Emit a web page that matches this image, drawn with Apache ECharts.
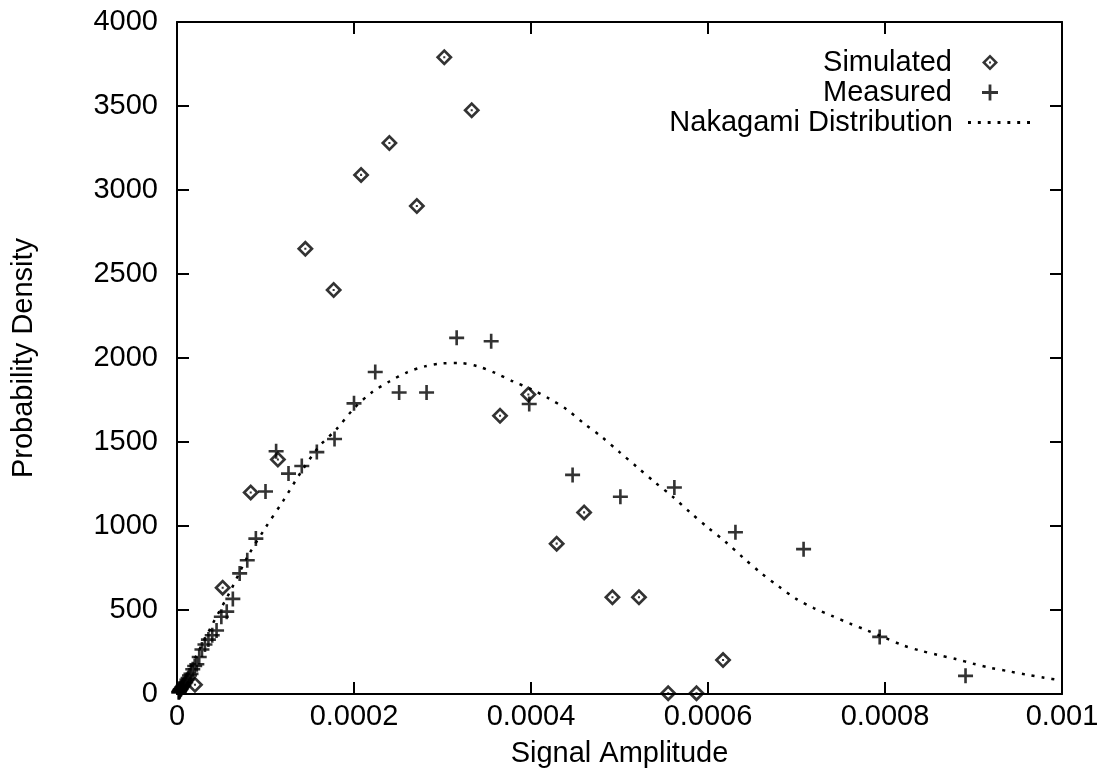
<!DOCTYPE html>
<html>
<head>
<meta charset="utf-8">
<script src="https://cdn.jsdelivr.net/npm/echarts@6/dist/echarts.min.js"></script>
<style>html,body{margin:0;padding:0;background:#fff}#c{width:1105px;height:773px}</style>
</head>
<body>
<div id="c"></div>
<script>
// ---- data ----
const simX = [0.0000203,0.0000516,0.0000833,0.000114,0.000145,0.000177,0.000208,0.000240,0.000271,0.000302,0.000333,0.000365,0.000397,0.000429,0.000460,0.000492,0.000522,0.000555,0.000587,0.000617];
const simY = [55,633,1200,1396,2650,2405,3090,3280,2905,3790,3475,1656,1783,895,1081,576,576,5,5,202];

const measX = [0.000891,0.000794,0.000708,0.000631,0.000562,0.000501,0.000447,0.000398,0.000355,0.000316,0.000282,0.000251,0.000224,0.000200,0.000178,0.000158,0.000141,0.000126,0.000112,0.000100,
  0.0000891,0.0000794,0.0000708,0.0000631,0.0000562,0.0000501,0.0000447,0.0000398,0.0000355,0.0000316,0.0000282,0.0000251,0.0000224,0.0000200,0.0000178,0.0000158,0.0000141,0.0000126,0.0000112,0.0000100,
  0.0000089,0.0000079,0.0000071,0.0000063,0.0000056,0.0000050,0.0000045,0.0000040,0.0000035,0.0000032,0.0000028,0.0000025,0.0000022,0.0000020];
const measY = [108,340,862,963,1229,1174,1304,1726,2100,2120,1795,1795,1917,1730,1518,1440,1357,1312,1445,1205,
  925,796,718,566,490,460,378,350,324,295,265,220,177,167,147,120,110,95,85,70,
  65,55,50,45,40,35,30,28,25,20,18,15,12,10];

const curveX = [0,0.00002,0.00004,0.00006,0.00008,0.0001,0.00012,0.00014,0.00016,0.00018,0.0002,0.00022,0.00024,0.00026,0.00028,0.0003,0.00032,0.00034,0.00036,0.00038,0.0004,0.00042,0.00044,0.00046,0.00048,0.0005,0.00052,0.00054,0.00056,0.00058,0.0006,0.00062,0.00064,0.00066,0.00068,0.0007,0.00072,0.00074,0.00076,0.00078,0.0008,0.00082,0.00084,0.00086,0.00088,0.0009,0.00092,0.00094,0.00096,0.00098,0.001];
const curveY = [0,210,415,610,820,990,1150,1320,1470,1575,1700,1795,1860,1915,1950,1968,1970,1950,1910,1860,1815,1760,1695,1610,1530,1440,1350,1260,1175,1080,990,905,810,720,640,565,510,465,420,378,335,290,258,232,208,180,155,135,115,97,80];

const xTickLabels = ['0','0.0002','0.0004','0.0006','0.0008','0.001'];
const yTickLabels = ['0','500','1000','1500','2000','2500','3000','3500','4000'];
const seriesNames = ['Simulated','Measured','Nakagami Distribution'];
const xName = 'Signal Amplitude';
const yName = 'Probability Density';

// ---- chart ----
const FONT = "'Liberation Sans', Arial, Helvetica, sans-serif";
const FS = 29;
const diamondPath = 'path://M0,-10 L10,0 L0,10 L-10,0 Z M0,-5.5 L-5.5,0 L0,5.5 L5.5,0 Z M-1.2,-1.2 L1.2,-1.2 L1.2,1.2 L-1.2,1.2 Z';
const plusPath = 'path://M-1.4,-8 L1.4,-8 L1.4,-1.4 L8,-1.4 L8,1.4 L1.4,1.4 L1.4,8 L-1.4,8 L-1.4,1.4 L-8,1.4 L-8,-1.4 L-1.4,-1.4 Z';
const dotsPath = 'path://M0,0h3v3h-3Z M10,0h3v3h-3Z M20,0h3v3h-3Z M30,0h3v3h-3Z M40,0h3v3h-3Z M50,0h3v3h-3Z M60,0h3v3h-3Z';

const chart = echarts.init(document.getElementById('c'), null, {renderer: 'canvas'});
const axisLine = {show: true, onZero: false, lineStyle: {color: '#000', width: 2}};
const tickIn = {show: true, inside: true, length: 12, lineStyle: {color: '#000', width: 2}};
const xCommon = {type: 'value', min: 0, max: 0.001, interval: 0.0002, splitLine: {show: false}, axisLine: axisLine, axisTick: tickIn};
const yCommon = {type: 'value', min: 0, max: 4000, interval: 500, splitLine: {show: false}, axisLine: axisLine, axisTick: tickIn};

const legText = pad => ({fontFamily: FONT, fontSize: FS, color: '#000', padding: [0, pad, 0, 0]});

chart.setOption({
  animation: false,
  backgroundColor: '#fff',
  grid: {left: 177, right: 43, top: 22, bottom: 74},
  legend: [
    {orient: 'vertical', align: 'right', padding: 0, itemWidth: 16, itemHeight: 16, right: 107, top: 48,
      data: [seriesNames[0]], textStyle: legText(25)},
    {orient: 'vertical', align: 'right', padding: 0, itemWidth: 16, itemHeight: 16, right: 107, top: 78,
      data: [seriesNames[1]], textStyle: legText(25)},
    {orient: 'vertical', align: 'right', padding: 0, itemWidth: 62, itemHeight: 3, right: 75, top: 108,
      data: [{name: seriesNames[2], icon: dotsPath}], textStyle: legText(10)}
  ],
  xAxis: [
    Object.assign({}, xCommon, {position: 'bottom', name: xName, nameLocation: 'middle', nameGap: 45,
      nameTextStyle: {fontFamily: FONT, fontSize: FS, color: '#000'},
      axisLabel: {margin: 8, fontFamily: FONT, fontSize: FS, color: '#000',
        formatter: v => xTickLabels[Math.round(v / 0.0002)]}}),
    Object.assign({}, xCommon, {position: 'top', axisLabel: {show: false}})
  ],
  yAxis: [
    Object.assign({}, yCommon, {position: 'left', name: yName, nameLocation: 'middle', nameGap: 139,
      nameTextStyle: {fontFamily: FONT, fontSize: FS, color: '#000'},
      axisLabel: {margin: 19, fontFamily: FONT, fontSize: FS, color: '#000',
        formatter: v => yTickLabels[Math.round(v / 500)]}}),
    Object.assign({}, yCommon, {position: 'right', axisLabel: {show: false}})
  ],
  series: [
    {name: seriesNames[0], type: 'scatter', xAxisIndex: 0, yAxisIndex: 0, symbol: diamondPath, symbolSize: 17,
      itemStyle: {color: '#000'}, z: 4,
      data: simX.map((x, i) => [x, simY[i]])},
    {name: seriesNames[1], type: 'scatter', xAxisIndex: 0, yAxisIndex: 0, symbol: plusPath, symbolSize: 15,
      itemStyle: {color: '#000'}, z: 3,
      data: measX.map((x, i) => [x, measY[i]])},
    {name: seriesNames[2], type: 'line', xAxisIndex: 0, yAxisIndex: 0, showSymbol: false, symbol: 'none', smooth: 0.3,
      lineStyle: {color: '#000', width: 2.5, type: [3, 7]}, itemStyle: {color: '#000'}, z: 2,
      data: curveX.map((x, i) => [x, curveY[i]])}
  ]
});
</script>
</body>
</html>
